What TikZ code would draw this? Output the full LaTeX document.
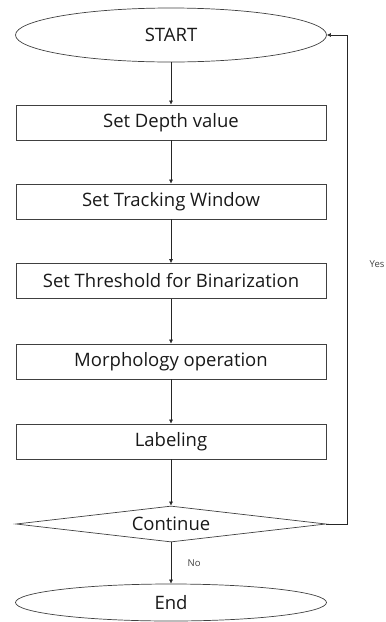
\documentclass[tikz,border=0pt]{standalone}
\usepackage{fontspec}
\setmainfont{Open Sans}
\usetikzlibrary{shapes.geometric,arrows.meta}
\begin{document}
\begin{tikzpicture}[x=1pt,y=-1pt,
  every node/.style={font=\fontsize{18.5}{21}\selectfont, text=black!90},
  proc/.style={draw=black!75, line width=0.7pt, minimum width=310pt, minimum height=35pt, inner sep=0pt},
  term/.style={draw=black!75, line width=0.7pt, ellipse, minimum width=311pt, inner sep=0pt},
  dec/.style={draw=black!75, line width=0.7pt, diamond, aspect=8.6, minimum width=310pt, minimum height=36pt, inner sep=0pt},
  arr/.style={draw=black!85, line width=0.6pt, -{Latex[length=4pt,width=4pt]}},
  small/.style={font=\fontsize{9.5}{11}\selectfont, text=black!75}]
\useasboundingbox (0,0) rectangle (386,622);
\node[term, minimum height=54pt] (start) at (171,35) {START};
\node[proc] (b1) at (171,122.5) {Set Depth value};
\node[proc] (b2) at (171,201.5) {Set Tracking Window};
\node[proc] (b3) at (171,281) {Set Threshold for Binarization};
\node[proc] (b4) at (171,361.5) {Morphology operation};
\node[proc] (b5) at (171,441.5) {Labeling};
\node[dec] (d) at (171,524) {Continue};
\node[term, minimum height=37pt] (end) at (171,602.5) {End};
\coordinate (r1) at (347,524);
\coordinate (r2) at (347,35);
\draw[arr] (start) -- (b1);
\draw[arr] (b1) -- (b2);
\draw[arr] (b2) -- (b3);
\draw[arr] (b3) -- (b4);
\draw[arr] (b4) -- (b5);
\draw[arr] (b5) -- (d);
\draw[arr] (d) -- node[small, right, xshift=13pt] {No} (end);
\draw[arr] (d.east) -- (r1) -- (r2) -- (start.east);
\node[small] (yes) at (377,264) {Yes};
\end{tikzpicture}
\end{document}
